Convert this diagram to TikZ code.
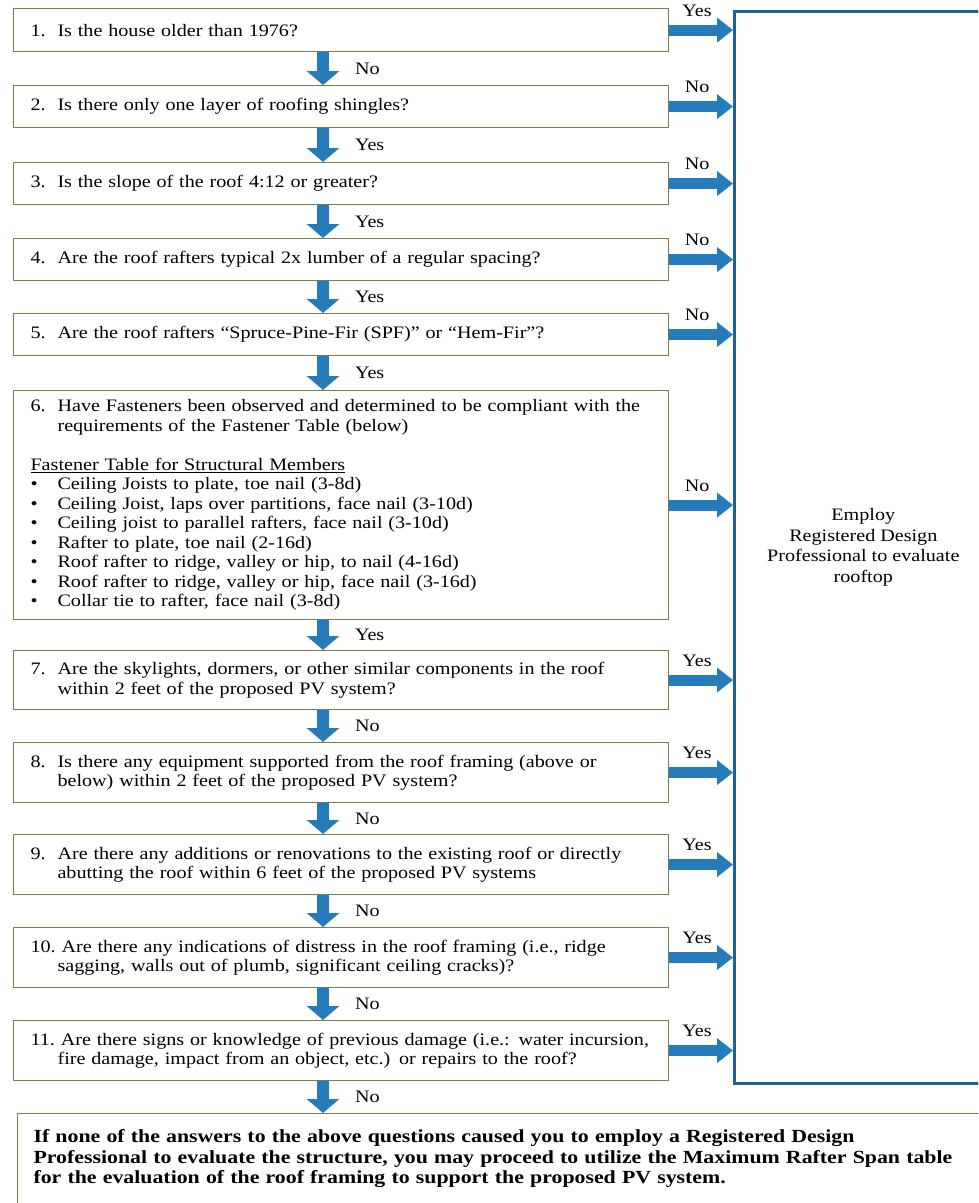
\documentclass[tikz,border=0pt]{standalone}
\usepackage{fontspec}
\setmainfont{Liberation Serif}[FakeStretch=1.15]
\newfontfamily\endfont{Liberation Serif}[FakeStretch=1.18]
\usetikzlibrary{arrows.meta}

\newcommand{\qnum}[1]{\makebox[27pt][l]{#1}}

\begin{document}
\begin{tikzpicture}[x=1pt,y=1pt,yscale=-1,xscale=1,
  every node/.style={font=\fontsize{17.5}{19.5}\selectfont},
  qbox/.style={draw={rgb, 255:red, 116; green, 128; blue, 72}, line width=1.1pt, anchor=north west, minimum width=655pt, text width=621pt, inner xsep=17pt, inner ysep=0pt, align=left},
  empbox/.style={draw={rgb, 255:red, 28; green, 96; blue, 152}, line width=2.6pt, anchor=north west, minimum width=258pt, minimum height=1072pt, inner sep=0pt, align=center, font=\fontsize{17.5}{20.5}\selectfont},
  endbox/.style={qbox, minimum width=983pt, text width=951pt, inner xsep=16pt, font=\endfont\fontsize{18.5}{20.5}\selectfont\bfseries},
  sidearrow/.style={draw={rgb, 255:red, 38; green, 124; blue, 186}, line width=11pt, -{Triangle[width=24pt,length=16pt]}},
  downarrow/.style={draw={rgb, 255:red, 38; green, 124; blue, 186}, line width=12pt, -{Triangle[width=32pt,length=14pt]}},
  ylbl/.style={midway, anchor=south, yshift=8pt, xshift=-4pt, inner sep=0pt},
  dlbl/.style={midway, anchor=west, xshift=26pt, inner sep=0pt}
]
\clip (0,0) rectangle (978,1203);
\coordinate (spine) at (323,0);

% Text Node
\node [empbox] (emp) at (733,10) {Employ\\Registered Design\\Professional to evaluate\\rooftop};

%Shape: Rectangle
\node [qbox, minimum height=43pt] (q1) at (13,8) {\qnum{1.}Is the house older than 1976?};
%Shape: Rectangle
\node [qbox, minimum height=42pt] (q2) at (13,85) {\qnum{2.}Is there only one layer of roofing shingles?};
%Shape: Rectangle
\node [qbox, minimum height=42pt] (q3) at (13,162) {\qnum{3.}Is the slope of the roof 4:12 or greater?};
%Shape: Rectangle
\node [qbox, minimum height=42pt] (q4) at (13,238) {\qnum{4.}Are the roof rafters typical 2x lumber of a regular spacing?};
%Shape: Rectangle
\node [qbox, minimum height=42pt] (q5) at (13,313) {\qnum{5.}Are the roof rafters “Spruce-Pine-Fir (SPF)” or “Hem-Fir”?};
%Shape: Rectangle
\node [qbox, minimum height=229pt] (q6) at (13,390) {\qnum{6.}Have Fasteners been observed and determined to be compliant with the\\
  \hspace*{27pt}requirements of the Fastener Table (below)\\[19.5pt]
  \underline{Fastener Table for Structural Members}\\
  \qnum{\textbullet}Ceiling Joists to plate, toe nail (3-8d)\\
  \qnum{\textbullet}Ceiling Joist, laps over partitions, face nail (3-10d)\\
  \qnum{\textbullet}Ceiling joist to parallel rafters, face nail (3-10d)\\
  \qnum{\textbullet}Rafter to plate, toe nail (2-16d)\\
  \qnum{\textbullet}Roof rafter to ridge, valley or hip, to nail (4-16d)\\
  \qnum{\textbullet}Roof rafter to ridge, valley or hip, face nail (3-16d)\\
  \qnum{\textbullet}Collar tie to rafter, face nail (3-8d)};
%Shape: Rectangle
\node [qbox, minimum height=59pt] (q7) at (13,650) {\qnum{7.}Are the skylights, dormers, or other similar components in the roof\\
  \hspace*{27pt}within 2 feet of the proposed PV system?};
%Shape: Rectangle
\node [qbox, minimum height=60pt] (q8) at (13,742) {\qnum{8.}Is there any equipment supported from the roof framing (above or\\
  \hspace*{27pt}below) within 2 feet of the proposed PV system?};
%Shape: Rectangle
\node [qbox, minimum height=60pt] (q9) at (13,834) {\qnum{9.}Are there any additions or renovations to the existing roof or directly\\
  \hspace*{27pt}abutting the roof within 6 feet of the proposed PV systems};
%Shape: Rectangle
\node [qbox, minimum height=60pt] (q10) at (13,927) {10.\ Are there any indications of distress in the roof framing (i.e., ridge\\
  \hspace*{27pt}sagging, walls out of plumb, significant ceiling cracks)?};
%Shape: Rectangle
\node [qbox, minimum height=60pt] (q11) at (13,1020) {\mbox{11.\ Are there signs or knowledge of previous damage (i.e.: water incursion,}\\
  \hspace*{27pt}fire damage, impact from an object, etc.) or repairs to the roof?};
%Shape: Rectangle
\node [endbox, minimum height=90pt] (final) at (17,1113) {If none of the answers to the above questions caused you to employ a Registered Design\\
  Professional to evaluate the structure, you may proceed to utilize the Maximum Rafter Span table\\
  for the evaluation of the roof framing to support the proposed PV system.};

%Straight Lines
\draw [sidearrow] (q1.east) -- (q1.east -| emp.west) node [ylbl] {Yes};
\draw [sidearrow] (q2.east) -- (q2.east -| emp.west) node [ylbl] {No};
\draw [sidearrow] (q3.east) -- (q3.east -| emp.west) node [ylbl] {No};
\draw [sidearrow] (q4.east) -- (q4.east -| emp.west) node [ylbl] {No};
\draw [sidearrow] (q5.east) -- (q5.east -| emp.west) node [ylbl] {No};
\draw [sidearrow] (q6.east) -- (q6.east -| emp.west) node [ylbl] {No};
\draw [sidearrow] (q7.east) -- (q7.east -| emp.west) node [ylbl] {Yes};
\draw [sidearrow] (q8.east) -- (q8.east -| emp.west) node [ylbl] {Yes};
\draw [sidearrow] (q9.east) -- (q9.east -| emp.west) node [ylbl] {Yes};
\draw [sidearrow] (q10.east) -- (q10.east -| emp.west) node [ylbl] {Yes};
\draw [sidearrow] (q11.east) -- (q11.east -| emp.west) node [ylbl] {Yes};

%Straight Lines
\draw [downarrow] (q1.south -| spine) -- (q2.north -| spine) node [dlbl] {No};
\draw [downarrow] (q2.south -| spine) -- (q3.north -| spine) node [dlbl] {Yes};
\draw [downarrow] (q3.south -| spine) -- (q4.north -| spine) node [dlbl] {Yes};
\draw [downarrow] (q4.south -| spine) -- (q5.north -| spine) node [dlbl] {Yes};
\draw [downarrow] (q5.south -| spine) -- (q6.north -| spine) node [dlbl] {Yes};
\draw [downarrow] (q6.south -| spine) -- (q7.north -| spine) node [dlbl] {Yes};
\draw [downarrow] (q7.south -| spine) -- (q8.north -| spine) node [dlbl] {No};
\draw [downarrow] (q8.south -| spine) -- (q9.north -| spine) node [dlbl] {No};
\draw [downarrow] (q9.south -| spine) -- (q10.north -| spine) node [dlbl] {No};
\draw [downarrow] (q10.south -| spine) -- (q11.north -| spine) node [dlbl] {No};
\draw [downarrow] (q11.south -| spine) -- (final.north -| spine) node [dlbl] {No};

\end{tikzpicture}
\end{document}
